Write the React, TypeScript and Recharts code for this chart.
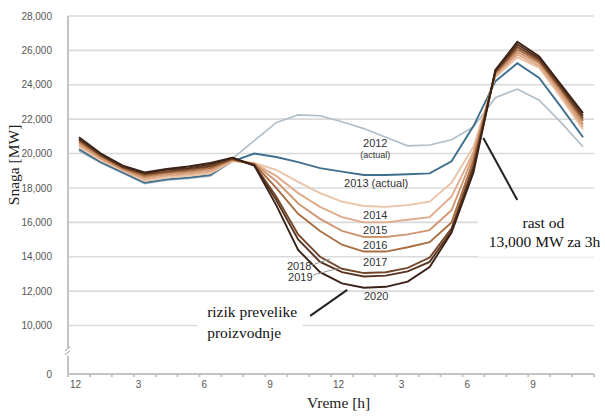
import React from "react"
import { LineChart, Line, XAxis, YAxis, CartesianGrid, ReferenceDot, ReferenceLine, ReferenceArea } from "recharts"

// hours of the day (0 = midnight), tick labels in 12h clock
const hours = [0, 1, 2, 3, 4, 5, 6, 7, 8, 9, 10, 11, 12, 13, 14, 15, 16, 17, 18, 19, 20, 21, 22, 23]
const hourTicks = [0, 1, 2, 3, 4, 5, 6, 7, 8, 9, 10, 11, 12, 13, 14, 15, 16, 17, 18, 19, 20, 21, 22, 23, 24]
const hourLabels: Record<number, string> = { 0: "12", 3: "3", 6: "6", 9: "9", 12: "12", 15: "3", 18: "6", 21: "9" }

// axis is broken below 10,000; the bottom tick stands for 0
const AXIS_FLOOR = 7180
const yTicks = [AXIS_FLOOR, 10000, 12000, 14000, 16000, 18000, 20000, 22000, 24000, 26000, 28000]

const s2012 = [20150, 19450, 18850, 18250, 18450, 18550, 18700, 19700, 20750, 21800, 22250, 22200, 21850, 21450, 20950, 20450, 20500, 20800, 21550, 23250, 23750, 23100, 21800, 20400]
const s2013 = [20250, 19500, 18900, 18300, 18500, 18600, 18750, 19550, 20000, 19800, 19500, 19150, 18950, 18750, 18750, 18800, 18850, 19550, 21600, 24200, 25250, 24400, 22700, 20950]
const s2014 = [20400, 19600, 19000, 18400, 18600, 18700, 18850, 19550, 19450, 19050, 18350, 17700, 17200, 16950, 16900, 17000, 17200, 18300, 20400, 24450, 25600, 25000, 23250, 21400]
const s2015 = [20500, 19700, 19050, 18500, 18700, 18800, 18950, 19600, 19420, 18700, 17700, 16900, 16300, 16000, 16000, 16150, 16300, 17500, 20100, 24550, 25750, 25100, 23400, 21550]
const s2016 = [20600, 19750, 19100, 18600, 18800, 18900, 19050, 19650, 19400, 18400, 17100, 16200, 15500, 15150, 15150, 15300, 15550, 16700, 19900, 24600, 25900, 25250, 23550, 21700]
const s2017 = [20700, 19850, 19150, 18700, 18900, 19000, 19150, 19650, 19380, 18000, 16500, 15500, 14700, 14300, 14300, 14550, 14850, 16000, 19600, 24700, 26050, 25350, 23700, 21900]
const s2018 = [20800, 19900, 19200, 18800, 18950, 19100, 19250, 19700, 19350, 17500, 15300, 14000, 13300, 13050, 13100, 13350, 13950, 15650, 19300, 24750, 26200, 25450, 23800, 22050]
const s2019 = [20850, 19950, 19250, 18850, 19050, 19150, 19350, 19750, 19320, 17300, 15000, 13700, 13100, 12850, 12900, 13150, 13700, 15500, 19100, 24800, 26350, 25550, 23900, 22200]
const s2020 = [20950, 20000, 19300, 18900, 19100, 19250, 19450, 19750, 19300, 17000, 14400, 13100, 12450, 12200, 12250, 12550, 13400, 15400, 18900, 24860, 26500, 25650, 24000, 22350]

const years = ["2012", "2013", "2014", "2015", "2016", "2017", "2018", "2019", "2020"]
const seriesValues = [s2012, s2013, s2014, s2015, s2016, s2017, s2018, s2019, s2020]
const colors = ["#aebdc8", "#3f6f8e", "#ebc3a6", "#dfab8a", "#cf9672", "#a96f43", "#74462a", "#583420", "#3a2216"]

// points sit in the middle of each hour slot
const data = hours.map((h, i) => {
  const row: Record<string, number> = { x: h + 0.5 }
  years.forEach((y, k) => { row["y" + y] = seriesValues[k][i] })
  return row
})

const sans = "Liberation Sans, Arial, sans-serif"
const serif = "Liberation Serif, Times New Roman, serif"

// text notes in data coordinates
const notes = [
  { text: "2012", x: 14.02, y: 20600, size: 11, font: sans, anchor: "middle" },
  { text: "(actual)", x: 14.02, y: 19920, size: 9, font: sans, anchor: "middle" },
  { text: "2013 (actual)", x: 14.06, y: 18290, size: 11, font: sans, anchor: "middle" },
  { text: "2014", x: 14.02, y: 16430, size: 11, font: sans, anchor: "middle" },
  { text: "2015", x: 14.02, y: 15560, size: 11, font: sans, anchor: "middle" },
  { text: "2016", x: 14.02, y: 14690, size: 11, font: sans, anchor: "middle" },
  { text: "2017", x: 14.02, y: 13700, size: 11, font: sans, anchor: "middle" },
  { text: "2018", x: 10.55, y: 13465, size: 11, font: sans, anchor: "middle" },
  { text: "2019", x: 10.6, y: 12825, size: 11, font: sans, anchor: "middle" },
  { text: "2020", x: 14.06, y: 11720, size: 11, font: sans, anchor: "middle" },
  { text: "rast od", x: 21.69, y: 15965, size: 15.5, font: serif, anchor: "middle" },
  { text: "13,000 MW za 3h", x: 21.74, y: 14860, size: 15.5, font: serif, anchor: "middle" },
  { text: "rizik prevelike", x: 6.35, y: 10790, size: 15.5, font: serif, anchor: "start" },
  { text: "proizvodnje", x: 6.35, y: 9570, size: 15.5, font: serif, anchor: "start" },
]

const leaders = [
  { from: { x: 18.95, y: 20900 }, to: { x: 20.5, y: 17300 }, color: "#222", width: 2 },
  { from: { x: 11.05, y: 10560 }, to: { x: 12.74, y: 12070 }, color: "#222", width: 2 },
  { from: { x: 11.14, y: 13520 }, to: { x: 11.96, y: 13870 }, color: "#999", width: 1 },
  { from: { x: 11.19, y: 12940 }, to: { x: 12.42, y: 13350 }, color: "#999", width: 1 },
]

const XTick = (props: any) => {
  const { x, y, payload } = props
  const label = hourLabels[payload.value]
  if (!label) return null
  return (
    <text x={x + 2} y={y + 9} textAnchor="start" fontSize={10} fontFamily={sans} fill="#555">
      {label}
    </text>
  )
}

export default function App() {
  return (
    <div style={{ position: "absolute", left: 0, top: 0, background: "#fff" }}>
      <LineChart width={605} height={416} data={data} margin={{ top: 16, right: 11, left: 0, bottom: 12 }}>
        <CartesianGrid vertical={false} stroke="#dadada" strokeWidth={1.6} />
        <ReferenceArea x1={18.7} x2={24} y1={14000} y2={16900} fill="#fff" fillOpacity={1} stroke="none" />
        <ReferenceArea x1={5.9} x2={10.7} y1={8870} y2={11490} fill="#fff" fillOpacity={1} stroke="none" />
        <XAxis
          dataKey="x"
          type="number"
          domain={[0, 24]}
          ticks={hourTicks}
          interval={0}
          height={30}
          stroke="#c4c4c4"
          strokeWidth={2}
          tickSize={3}
          tick={<XTick />}
        />
        <YAxis
          type="number"
          domain={[AXIS_FLOOR, 28000]}
          ticks={yTicks}
          interval={0}
          width={68}
          stroke="#c4c4c4"
          strokeWidth={2}
          tickLine={false}
          tickMargin={10}
          tick={{ fontSize: 10, fontFamily: sans, fill: "#555" }}
          tickFormatter={(v: number) => (v < 10000 ? "0" : v.toLocaleString("en-US"))}
        />
        {years.map((y, k) => (
          <Line
            key={y}
            type="linear"
            dataKey={"y" + y}
            stroke={colors[k]}
            strokeWidth={k === 0 ? 1.6 : 1.9}
            dot={false}
            isAnimationActive={false}
          />
        ))}
        <ReferenceDot
          x={0}
          y={8470}
          r={0}
          ifOverflow="visible"
          shape={(p: any) => (
            <g>
              <rect x={p.cx - 3} y={p.cy - 4} width={6} height={8} fill="#fff" />
              <line x1={p.cx - 3} y1={p.cy - 1} x2={p.cx + 2} y2={p.cy - 5} stroke="#999" strokeWidth={1} />
              <line x1={p.cx - 3} y1={p.cy + 3} x2={p.cx + 2} y2={p.cy - 1} stroke="#999" strokeWidth={1} />
            </g>
          )}
        />
        {/* axis titles, placed in data coordinates outside the plot */}
        <ReferenceDot
          x={12.35}
          y={5200}
          r={0}
          ifOverflow="visible"
          shape={(p: any) => (
            <text x={p.cx} y={p.cy} textAnchor="middle" fontSize={15.5} style={{ fontFamily: serif }} fill="#222">
              Vreme [h]
            </text>
          )}
        />
        <ReferenceDot
          x={-2.45}
          y={19340}
          r={0}
          ifOverflow="visible"
          shape={(p: any) => (
            <text x={p.cx + 5} y={p.cy} transform={`rotate(-90 ${p.cx + 5} ${p.cy})`} textAnchor="middle" fontSize={15.5} style={{ fontFamily: serif }} fill="#222">
              Snaga [MW]
            </text>
          )}
        />
        {leaders.map((l, i) => (
          <ReferenceLine key={"l" + i} segment={[l.from, l.to]} stroke={l.color} strokeWidth={l.width} ifOverflow="visible" />
        ))}
        {notes.map((n, i) => (
          <ReferenceDot
            key={"n" + i}
            x={n.x}
            y={n.y}
            r={0}
            ifOverflow="visible"
            shape={(p: any) => (
              <text x={p.cx} y={p.cy} dy="0.35em" textAnchor={n.anchor as any} fontSize={n.size} style={{ fontFamily: n.font }} fill={n.font === serif ? "#111" : "#333"}>
                {n.text}
              </text>
            )}
          />
        ))}
      </LineChart>
    </div>
  )
}
